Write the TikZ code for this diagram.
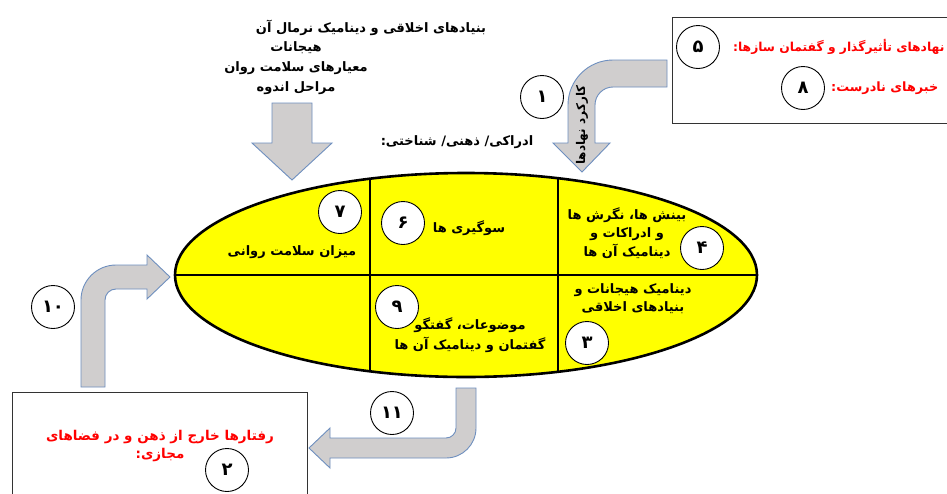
\documentclass[tikz,border=0pt]{standalone}
\usepackage{fontspec}
\newfontfamily\fa[Script=Arabic]{DejaVu Sans}
\TeXXeTstate=1
\newcommand{\myR}[1]{\beginR #1\endR}
\definecolor{arrowgray}{HTML}{D0CECE}
\definecolor{arrowedge}{HTML}{6E8FBF}
\definecolor{ellyellow}{HTML}{FFFF00}
\definecolor{redtext}{HTML}{FF0000}
\tikzset{
  blockarrow/.style={fill=arrowgray, draw=arrowedge, line width=0.9pt, line join=miter},
  numcircle/.style={circle, draw=black, fill=white, line width=0.9pt, minimum size=43pt, inner sep=0pt, font=\fa\bfseries\fontsize{18}{18}\selectfont},
  celltext/.style={align=center, inner sep=0pt, font=\fa\bfseries\fontsize{13}{18.5}\selectfont},
  toplines/.style={align=center, inner sep=0pt, font=\fa\bfseries\fontsize{13}{20}\selectfont},
  redlabel/.style={align=center, inner sep=0pt, text=redtext, font=\fa\bfseries\fontsize{13.5}{18}\selectfont},
  plainbox/.style={draw=black!80, line width=0.8pt},
}
\begin{document}
\begin{tikzpicture}[x=1pt,y=-1pt]
\useasboundingbox (0,0) rectangle (947,493);
\clip (0,0) rectangle (947,493);
\fill[white] (0,0) rectangle (947,493);

% boxes
\draw[plainbox] (672,17) rectangle (960,123);
\draw[plainbox] (12,392) rectangle (307,510);

% straight down arrow
\draw[blockarrow] (272,103) -- (312,103) -- (312,143) -- (332,143) -- (292,180) -- (252,143) -- (272,143) -- cycle;

% top-right bent arrow
\draw[blockarrow] (667,60) -- (613,60) .. controls (588.2,60) and (568,80.2) .. (568,105)
  -- (568,143) -- (553,143) -- (582,172) -- (610,143) -- (595,143) -- (595,105)
  .. controls (595,95.1) and (603.1,87) .. (613,87) -- (667,87) -- cycle;

% left bent arrow
\draw[blockarrow] (81,387) -- (81,300) .. controls (81,280.7) and (96.7,265) .. (116,265)
  -- (147,265) -- (147,255) -- (170,277) -- (147,299) -- (147,289) -- (116,289)
  .. controls (109.9,289) and (105,293.9) .. (105,300) -- (105,387) -- cycle;

% bottom bent arrow
\draw[blockarrow] (456,388) -- (476,388) -- (476,428) .. controls (476,444.6) and (462.6,458) .. (446,458)
  -- (330,458) -- (330,468) -- (309,448) -- (330,428) -- (330,438) -- (446,438)
  .. controls (451.5,438) and (456,433.5) .. (456,428) -- cycle;

% ellipse
\fill[ellyellow] (466,275) ellipse [x radius=291, y radius=102];
\begin{scope}
  \clip (466,275) ellipse [x radius=291, y radius=102];
  \draw[black, line width=1.6pt] (370,160) -- (370,390);
  \draw[black, line width=1.6pt] (558,160) -- (558,390);
  \draw[black, line width=1.6pt] (160,275) -- (770,275);
\end{scope}
\draw[black, line width=2.6pt] (466,275) ellipse [x radius=291, y radius=102];

% top text
\node[toplines] (toptitle) at (371,28) {\myR{بنیادهای اخلاقی و دینامیک نرمال آن}};
\node[toplines] (toptext) at (296,68) {\myR{هیجانات}\\ \myR{معیارهای سلامت روان}\\ \myR{مراحل اندوه}};
\node[toplines] (cognit) at (457,142) {\myR{ادراکی/ ذهنی/ شناختی:}};
\node[inner sep=0pt, rotate=90, font=\fa\bfseries\fontsize{12}{12}\selectfont] (karkard) at (582,125) {\myR{کارکرد نهادها}};

% cell texts
\node[celltext] (t7) at (292,252) {\myR{میزان سلامت روانی}};
\node[celltext] (t6) at (469,228) {\myR{سوگیری ها}};
\node[celltext] (t4) at (627,233) {\myR{بینش ها، نگرش ها}\\ \myR{و ادراکات و}\\ \myR{دینامیک آن ها}};
\node[celltext, font=\fa\bfseries\fontsize{13}{18}\selectfont] (t3) at (633,299) {\myR{دینامیک هیجانات و}\\ \myR{بنیادهای اخلاقی}};
\node[celltext, font=\fa\bfseries\fontsize{13}{20}\selectfont] (t9) at (470,335) {\myR{موضوعات، گفتگو}\\ \myR{گفتمان و دینامیک آن ها}};

% red texts
\node[redlabel, anchor=west, font=\fa\bfseries\fontsize{12.3}{16}\selectfont] (r1) at (733,47) {\myR{نهادهای تأثیرگذار و گفتمان سازها:}};
\node[redlabel, anchor=west, font=\fa\bfseries\fontsize{12.8}{16}\selectfont] (r2) at (831,88) {\myR{خبرهای نادرست:}};
\node[redlabel] (r3) at (160,446) {\myR{رفتارها خارج از ذهن و در فضاهای}\\ \myR{مجازی:}};

% numbered circles
\node[numcircle] (c1) at (542,97) {۱};
\node[numcircle] (c5) at (698,47) {۵};
\node[numcircle] (c8) at (803,88) {۸};
\node[numcircle] (c7) at (340,212) {۷};
\node[numcircle] (c6) at (403,223) {۶};
\node[numcircle] (c4) at (702,248) {۴};
\node[numcircle] (c3) at (587,343) {۳};
\node[numcircle] (c9) at (397,307) {۹};
\node[numcircle] (c10) at (53,307) {۱۰};
\node[numcircle] (c11) at (392,413) {۱۱};
\node[numcircle] (c2) at (227,470) {۲};
\end{tikzpicture}
\end{document}
